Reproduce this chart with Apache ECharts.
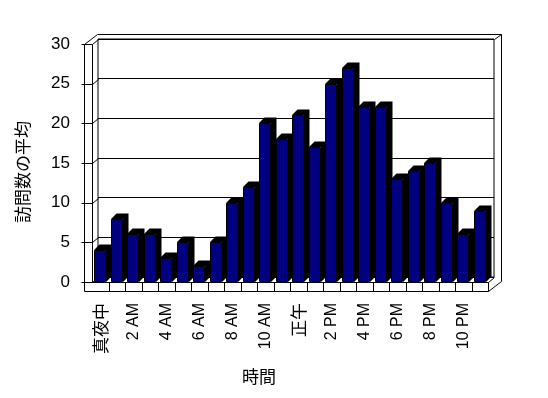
<!DOCTYPE html>
<html>
<head>
<meta charset="utf-8">
<script src="https://cdn.jsdelivr.net/npm/echarts@6/dist/echarts.min.js"></script>
<style>
  html, body { margin: 0; padding: 0; background: #fff; }
  #chart { width: 548px; height: 398px; }
</style>
</head>
<body>
<div id="chart"></div>
<script>
// 時間ごとの訪問数の平均
const hours = ['真夜中', '1 AM', '2 AM', '3 AM', '4 AM', '5 AM', '6 AM', '7 AM', '8 AM', '9 AM', '10 AM', '11 AM',
  '正午', '1 PM', '2 PM', '3 PM', '4 PM', '5 PM', '6 PM', '7 PM', '8 PM', '9 PM', '10 PM', '11 PM']
const visits = [4, 8, 6, 6, 3, 5, 2, 5, 10, 12, 20, 18, 21, 17, 25, 27, 22, 22, 13, 14, 15, 10, 6, 9]
const yTicks = [0, 5, 10, 15, 20, 25, 30]

const barColor = '#000080'
const barDepth = 5.5
const wallShift = [6, -5]
const latin = "'Liberation Sans', 'Noto Sans CJK JP', sans-serif"
const cjk = "'Noto Sans CJK JP', sans-serif"

const yMax = yTicks[yTicks.length - 1]
const yStep = yTicks[1] - yTicks[0]

function px (v) {
  return Math.round(v) + 0.5
}

// 左壁・床・壁の厚み（棒グラフと同じ座標軸から計算）
function renderFrame (params, api) {
  const w = api.size([1, 0])[0]
  const xL = api.coord([0, 0])[0] - w / 2
  const xR = xL + hours.length * w
  const y0 = api.coord([0, 0])[1]
  const yTop = api.coord([0, yMax])[1]
  const yFloor = y0 + 9
  const xOut = xL - 8
  const outer = [13, -10.5]
  const lines = []
  const seg = pts => lines.push({
    type: 'polyline',
    shape: { points: pts.map(q => [px(q[0]), px(q[1])]) },
    style: { stroke: '#000', lineWidth: 1, fill: null }
  })
  seg([[xOut, yTop], [xOut, yFloor], [xR, yFloor]])
  seg([[xL, yTop], [xL, y0], [xR, y0]])
  seg([[xOut, yTop], [xOut + outer[0], yTop + outer[1]], [xR + outer[0], yTop + outer[1]], [xR + outer[0], yFloor + outer[1]], [xR, yFloor]])
  seg([[xR + wallShift[0], yTop + wallShift[1]], [xR + outer[0], yTop + outer[1]]])
  seg([[xR, y0], [xR + wallShift[0], y0 + wallShift[1]]])
  for (let k = 1; k <= hours.length; k++) {
    seg([[xL + k * w, y0], [xL + k * w, yFloor]])
  }
  yTicks.forEach(v => {
    const y = api.coord([0, v])[1]
    seg([[xOut - 3, y], [xL, y], [xL + wallShift[0], y + wallShift[1]]])
  })
  return { type: 'group', children: lines }
}

function renderBar (params, api) {
  const top = api.coord([api.value(0), api.value(1)])
  const base = api.coord([api.value(0), 0])
  const half = api.size([1, 0])[0] * 0.375
  const x0 = Math.round(top[0] - half)
  const x1 = Math.round(top[0] + half)
  const yt = Math.round(top[1])
  const yb = Math.round(base[1])
  const d = barDepth
  return {
    type: 'group',
    children: [{
      type: 'polygon',
      shape: { points: [[x0, yt], [x0 + d, yt - d], [x1 + d, yt - d], [x1 + d, yb - d], [x1, yb], [x1, yt]] },
      style: { fill: '#000' }
    }, {
      type: 'rect',
      shape: { x: x0 + 0.5, y: yt + 0.5, width: x1 - x0 - 1, height: yb - yt - 1 },
      style: { fill: barColor, stroke: '#000', lineWidth: 1 }
    }]
  }
}

const chart = echarts.init(document.getElementById('chart'), null, { renderer: 'canvas' })
chart.setOption({
  backgroundColor: '#fff',
  animation: false,
  grid: [
    { left: 92, right: 60, top: 44, bottom: 116 },
    { left: 98, right: 54, top: 39, bottom: 121, show: true, borderColor: '#000', borderWidth: 1, backgroundColor: 'transparent' }
  ],
  xAxis: [{
    gridIndex: 0,
    type: 'category',
    data: hours,
    axisLine: { show: false },
    axisTick: { show: false },
    axisLabel: {
      interval: 1,
      rotate: 90,
      margin: 21,
      color: '#000',
      fontFamily: latin,
      fontSize: 16,
      formatter: v => /[A-Z]/.test(v) ? v : '{c|' + v + '}',
      rich: { c: { fontFamily: cjk, fontSize: 17, color: '#000' } }
    },
    name: '時間',
    nameLocation: 'middle',
    nameGap: 86,
    nameTextStyle: { fontFamily: cjk, fontSize: 17, color: '#000', padding: [0, 62, 0, 0] }
  }, {
    gridIndex: 1,
    type: 'category',
    data: hours,
    show: false
  }],
  yAxis: [{
    gridIndex: 0,
    type: 'value',
    min: 0,
    max: yMax,
    interval: yStep,
    axisLine: { show: false },
    axisTick: { show: false },
    splitLine: { show: false },
    axisLabel: { margin: 22, color: '#000', fontFamily: latin, fontSize: 17 },
    name: '訪問数の平均',
    nameLocation: 'middle',
    nameGap: 61,
    nameTextStyle: { fontFamily: cjk, fontSize: 17, color: '#000', padding: [0, 18, 0, 0] }
  }, {
    gridIndex: 1,
    type: 'value',
    min: 0,
    max: yMax,
    interval: yStep,
    axisLine: { show: false },
    axisTick: { show: false },
    axisLabel: { show: false },
    splitLine: { lineStyle: { color: '#000', width: 1 } }
  }],
  series: [{
    type: 'custom',
    name: 'frame',
    xAxisIndex: 0,
    yAxisIndex: 0,
    data: [[0, 0]],
    renderItem: renderFrame,
    silent: true,
    clip: false,
    z: 2
  }, {
    type: 'custom',
    name: '訪問数の平均',
    xAxisIndex: 0,
    yAxisIndex: 0,
    data: visits.map((v, i) => [i, v]),
    encode: { x: 0, y: 1 },
    renderItem: renderBar,
    clip: false,
    z: 3
  }]
})
</script>
</body>
</html>
